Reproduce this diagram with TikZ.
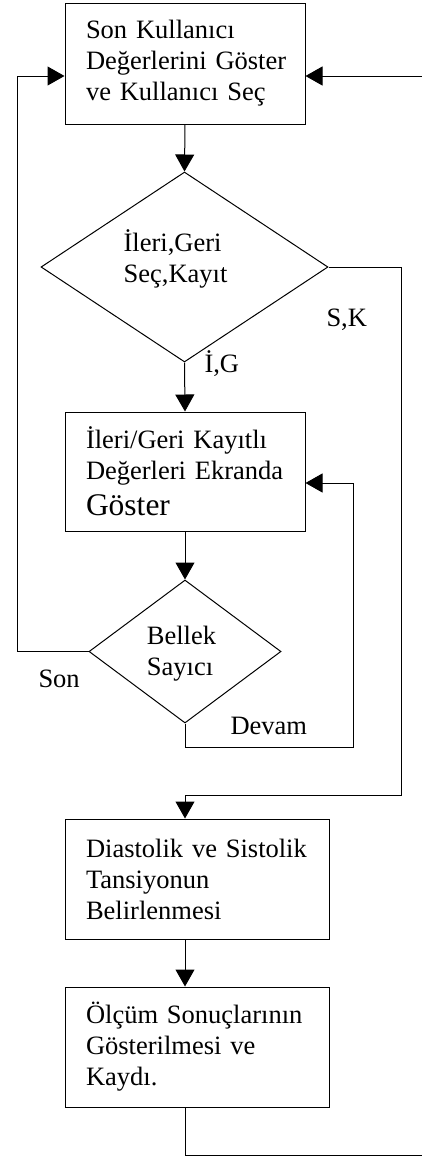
\documentclass[tikz,border=0pt]{standalone}
\usepackage{fontspec}
\setmainfont{Liberation Serif}
\usetikzlibrary{arrows.meta,shapes.geometric,calc}
\begin{document}
\begin{tikzpicture}[x=1pt,y=-1pt,
  line width=1pt,
  arr/.style={-{Triangle[length=17pt,width=19pt]}},
  txt/.style={font=\fontsize{26.5pt}{31pt}\selectfont},
  procbox/.style={draw,rectangle,txt,align=left,inner xsep=21pt,inner ysep=0pt,anchor=center},
  decis/.style={draw,diamond,inner sep=0pt,anchor=center},
  lbl/.style={txt,inner sep=0pt,anchor=base west}]
\useasboundingbox (0,0) rectangle (422,1157);

\node[procbox,text width=198pt,minimum width=240pt,minimum height=121pt] (b1) at (185,63.5)
  {Son Kullanıcı\\\mbox{Değerlerini Göster}\\ve Kullanıcı Seç};
\node[decis,minimum width=287pt,minimum height=190pt] (d1) at (184.5,267) {};
\node[txt,align=left,inner sep=0pt] (t1) at (175.5,259) {İleri,Geri\\Seç,Kayıt};
\node[procbox,text width=198pt,minimum width=240pt,minimum height=119pt] (b2) at (185,471.5)
  {İleri/Geri Kayıtlı\\\mbox{Değerleri Ekranda}\\[5pt]{\fontsize{31.5pt}{36pt}\selectfont Göster}};
\node[decis,minimum width=192pt,minimum height=143pt] (d2) at (185,651.5) {};
\node[txt,align=left,inner sep=0pt] (t2) at (181.5,653.5) {Bellek\\Sayıcı};
\node[procbox,text width=222pt,minimum width=264pt,minimum height=120pt] (b3) at (197,879)
  {\mbox{Diastolik ve Sistolik}\\Tansiyonun\\Belirlenmesi};
\node[procbox,text width=222pt,minimum width=264pt,minimum height=120pt] (b4) at (197,1047)
  {\mbox{Ölçüm Sonuçlarının}\\Gösterilmesi ve\\Kaydı.};

\node[lbl] (lsk) at (326,326) {S,K};
\node[lbl] (lig) at (204,372) {İ,G};
\node[lbl] (lson) at (38,687) {Son};
\node[lbl] (ldev) at (230,734) {Devam};

\coordinate (rin) at (422,76);
\coordinate (lx) at (17,651.5);
\coordinate (skc) at (401,795);
\coordinate (dv) at (353,747);
\coordinate (out) at (422,1155);

\draw[arr] (b1.south) -- (d1.north);
\draw[arr] (d1.south) -- (b2.north);
\draw[arr] (b2.south) -- (d2.north);
\draw[arr] (d2.west) -- (lx) |- ([yshift=-12.5pt]b1.west);
\draw[arr] (rin) -- ([yshift=-12.5pt]b1.east);
\draw[arr] (d1.east) -| (skc) -| (b3.north -| b1.south);
\draw[arr] (d2.south) |- (dv) |- ([yshift=-11.5pt]b2.east);
\draw[arr] (b3.south -| b1.south) -- (b4.north -| b1.south);
\draw (b4.south -| b1.south) |- (out);
\end{tikzpicture}
\end{document}
